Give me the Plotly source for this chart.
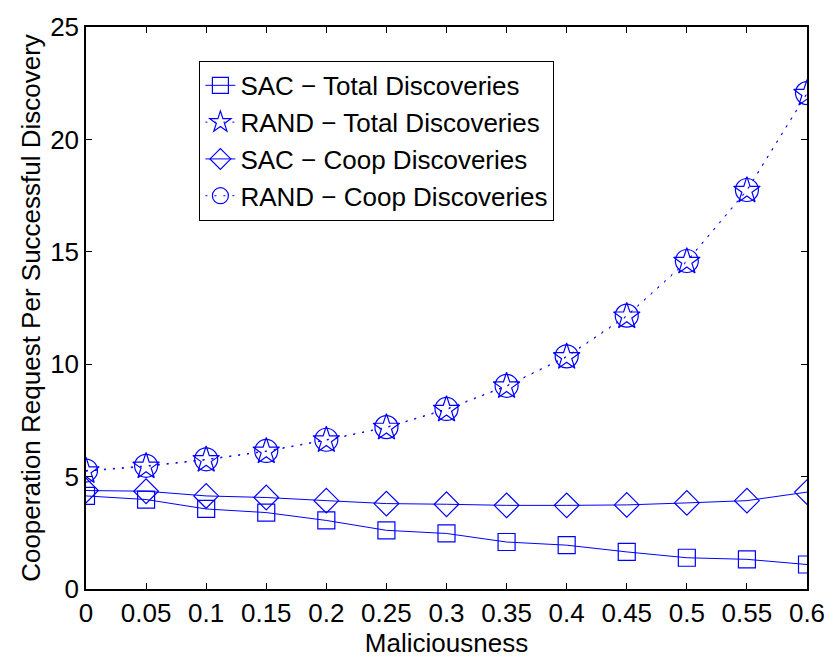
import plotly.graph_objects as go

x = [0, 0.05, 0.1, 0.15, 0.2, 0.25, 0.3, 0.35, 0.4, 0.45, 0.5, 0.55, 0.6]
sac_total = [4.14, 3.98, 3.56, 3.40, 3.05, 2.61, 2.47, 2.09, 1.95, 1.65, 1.39, 1.32, 1.09]
rand_total = [5.24, 5.45, 5.74, 6.12, 6.62, 7.18, 7.98, 9.02, 10.32, 12.13, 14.56, 17.72, 22.03]
sac_coop = [4.38, 4.35, 4.14, 4.07, 3.93, 3.80, 3.77, 3.72, 3.72, 3.74, 3.83, 3.93, 4.31]
rand_coop = [5.27, 5.48, 5.77, 6.14, 6.64, 7.20, 8.01, 9.04, 10.35, 12.16, 14.59, 17.75, 22.06]

xticks = [0, 0.05, 0.1, 0.15, 0.2, 0.25, 0.3, 0.35, 0.4, 0.45, 0.5, 0.55, 0.6]
xticklabels = ["0", "0.05", "0.1", "0.15", "0.2", "0.25", "0.3", "0.35", "0.4", "0.45", "0.5", "0.55", "0.6"]
yticks = [0, 5, 10, 15, 20, 25]

blue = "#0000FF"
dotted = "2px,7px"
fig = go.Figure()
fig.add_trace(go.Scatter(x=x, y=sac_total, name="SAC \u2212 Total Discoveries", mode="lines+markers",
                         line=dict(color=blue, width=1),
                         marker=dict(symbol="square-open", size=17, color=blue, line=dict(width=1.2, color=blue))))
fig.add_trace(go.Scatter(x=x, y=rand_total, name="RAND \u2212 Total Discoveries", mode="lines+markers",
                         line=dict(color=blue, width=1, dash=dotted),
                         marker=dict(symbol="star-open", size=20, color=blue, line=dict(width=1.2, color=blue))))
fig.add_trace(go.Scatter(x=x, y=sac_coop, name="SAC \u2212 Coop Discoveries", mode="lines+markers",
                         line=dict(color=blue, width=1),
                         marker=dict(symbol="diamond-open", size=19, color=blue, line=dict(width=1.2, color=blue))))
fig.add_trace(go.Scatter(x=x, y=rand_coop, name="RAND \u2212 Coop Discoveries", mode="lines+markers",
                         line=dict(color=blue, width=1, dash=dotted),
                         marker=dict(symbol="circle-open", size=23, color=blue, line=dict(width=1.2, color=blue))))

axis_common = dict(showline=True, linecolor="black", linewidth=1.5, mirror="ticks", ticks="inside",
                   ticklen=6, tickcolor="black", tickwidth=1, showgrid=False, zeroline=False,
                   tickfont=dict(size=26, color="black"))
fig.update_xaxes(range=[0, 0.6], tickvals=xticks, ticktext=xticklabels,
                 title=dict(text="Maliciousness", font=dict(size=26, color="black"), standoff=0), **axis_common)
fig.update_yaxes(range=[0, 25], tickvals=yticks,
                 title=dict(text="Cooperation Request Per Successful Discovery", font=dict(size=26, color="black"), standoff=2),
                 **axis_common)

fig.update_layout(
    width=837, height=660,
    margin=dict(l=86, r=24, t=15, b=71),
    paper_bgcolor="white", plot_bgcolor="white",
    font=dict(family="Liberation Sans, Arial, sans-serif", color="black"),
    legend=dict(x=0.157, y=0.94, xanchor="left", yanchor="top", bgcolor="white",
                bordercolor="black", borderwidth=1.2, font=dict(size=26, color="black"),
                tracegroupgap=0, itemsizing="trace"),
)
fig.write_html("out.html")
